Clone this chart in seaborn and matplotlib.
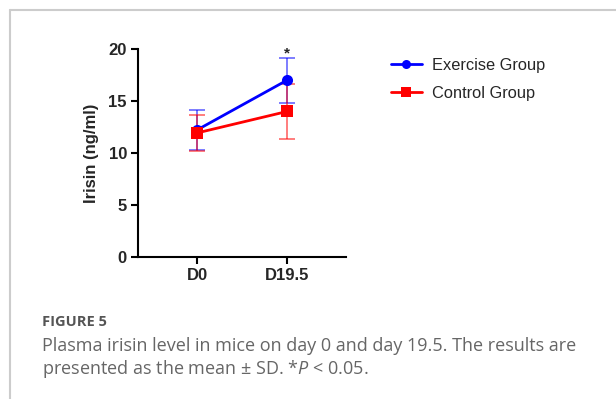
import matplotlib
matplotlib.use("Agg")
import matplotlib.pyplot as plt
import seaborn as sns
import pandas as pd
import numpy as np
from matplotlib.lines import Line2D

days = ["D0", "D19.5"]
exercise_mean = [12.25, 17.0]
exercise_sd = [1.9, 2.15]
control_mean = [11.95, 14.0]
control_sd = [1.75, 2.65]
groups = ["Exercise Group", "Control Group"]
colors = ["#0000ff", "#ff0000"]
markers = ["o", "s"]

sns.set_style("white")
plt.rcParams['font.family'] = ['Liberation Sans', 'DejaVu Sans']
plt.rcParams['mathtext.fontset'] = 'custom'
plt.rcParams['mathtext.it'] = 'Open Sans:italic'
plt.rcParams['mathtext.rm'] = 'Open Sans'

df = pd.DataFrame({
    "day": days * 2,
    "x": list(range(len(days))) * 2,
    "mean": exercise_mean + control_mean,
    "sd": exercise_sd + control_sd,
    "group": [groups[0]] * len(days) + [groups[1]] * len(days),
})

fig = plt.figure(figsize=(6.16, 3.99), dpi=100)
ax = fig.add_axes([138 / 616, 1 - 257.3 / 399, (346 - 138) / 616, (257.3 - 49) / 399])

for g, c, m in zip(groups, colors, markers):
    sub = df[df["group"] == g]
    ax.errorbar(sub["x"], sub["mean"], yerr=sub["sd"], fmt="none", ecolor=c,
                alpha=0.55, capsize=5.5, elinewidth=1.3, capthick=1.3, zorder=2)

sns.lineplot(data=df, x="x", y="mean", hue="group", style="group",
             palette=dict(zip(groups, colors)), markers=dict(zip(groups, markers)),
             dashes=False, markersize=8, linewidth=2, markeredgewidth=0,
             ax=ax, legend=False, zorder=3)

ax.set_xlim(-0.665, 1.66)
ax.set_ylim(0, 20)
ax.set_xticks(range(len(days)))
ax.set_xticklabels(days)
ax.set_yticks([0, 5, 10, 15, 20])
ax.set_xlabel("")
ax.set_ylabel("Irisin (ng/ml)", fontsize=12, fontweight="bold", labelpad=7)
for lab in ax.get_xticklabels() + ax.get_yticklabels():
    lab.set_fontweight("bold")
    lab.set_fontsize(12)
ax.tick_params(axis="both", which="both", direction="out", length=5, width=1.5,
               color="black", bottom=True, left=True, pad=3)
for s in ["top", "right"]:
    ax.spines[s].set_visible(False)
for s in ["left", "bottom"]:
    ax.spines[s].set_color("black")
    ax.spines[s].set_linewidth(1.5)

ax.text(1, 19.6, "*", ha="center", va="center", fontsize=11, fontweight="bold",
        clip_on=False)

handles = [Line2D([0], [0], color=c, marker=m, markersize=6.5, linewidth=2, markeredgewidth=0)
           for c, m in zip(colors, markers)]
fig.legend(handles, groups, loc="upper left", bbox_to_anchor=(384 / 616, 1 - 51 / 399),
           frameon=False, fontsize=11.8, handlelength=1.9, handletextpad=0.6,
           labelspacing=0.8, borderaxespad=0)

# page frame
fig.add_artist(Line2D([9.5 / 616, 9.5 / 616], [0, 1 - 10 / 399], transform=fig.transFigure,
                      color="#cccccc", linewidth=1.5))
fig.add_artist(Line2D([9.5 / 616, 1], [1 - 10 / 399, 1 - 10 / 399], transform=fig.transFigure,
                      color="#cccccc", linewidth=1.5))

cap_font = ["Open Sans", "DejaVu Sans"]
fig.text(42 / 616, 1 - 326 / 399, "FIGURE 5", fontsize=10.5, fontweight="bold",
         color="#555555", family=cap_font, va="baseline")
fig.text(42 / 616, 1 - 351 / 399, "Plasma irisin level in mice on day 0 and day 19.5. The results are",
         fontsize=13, color="#666666", family=cap_font, va="baseline")
fig.text(42 / 616, 1 - 374 / 399, "presented as the mean \u00b1 SD. *$P$ < 0.05.",
         fontsize=13, color="#666666", family=cap_font, va="baseline")

fig.savefig("out.png", dpi=100)
